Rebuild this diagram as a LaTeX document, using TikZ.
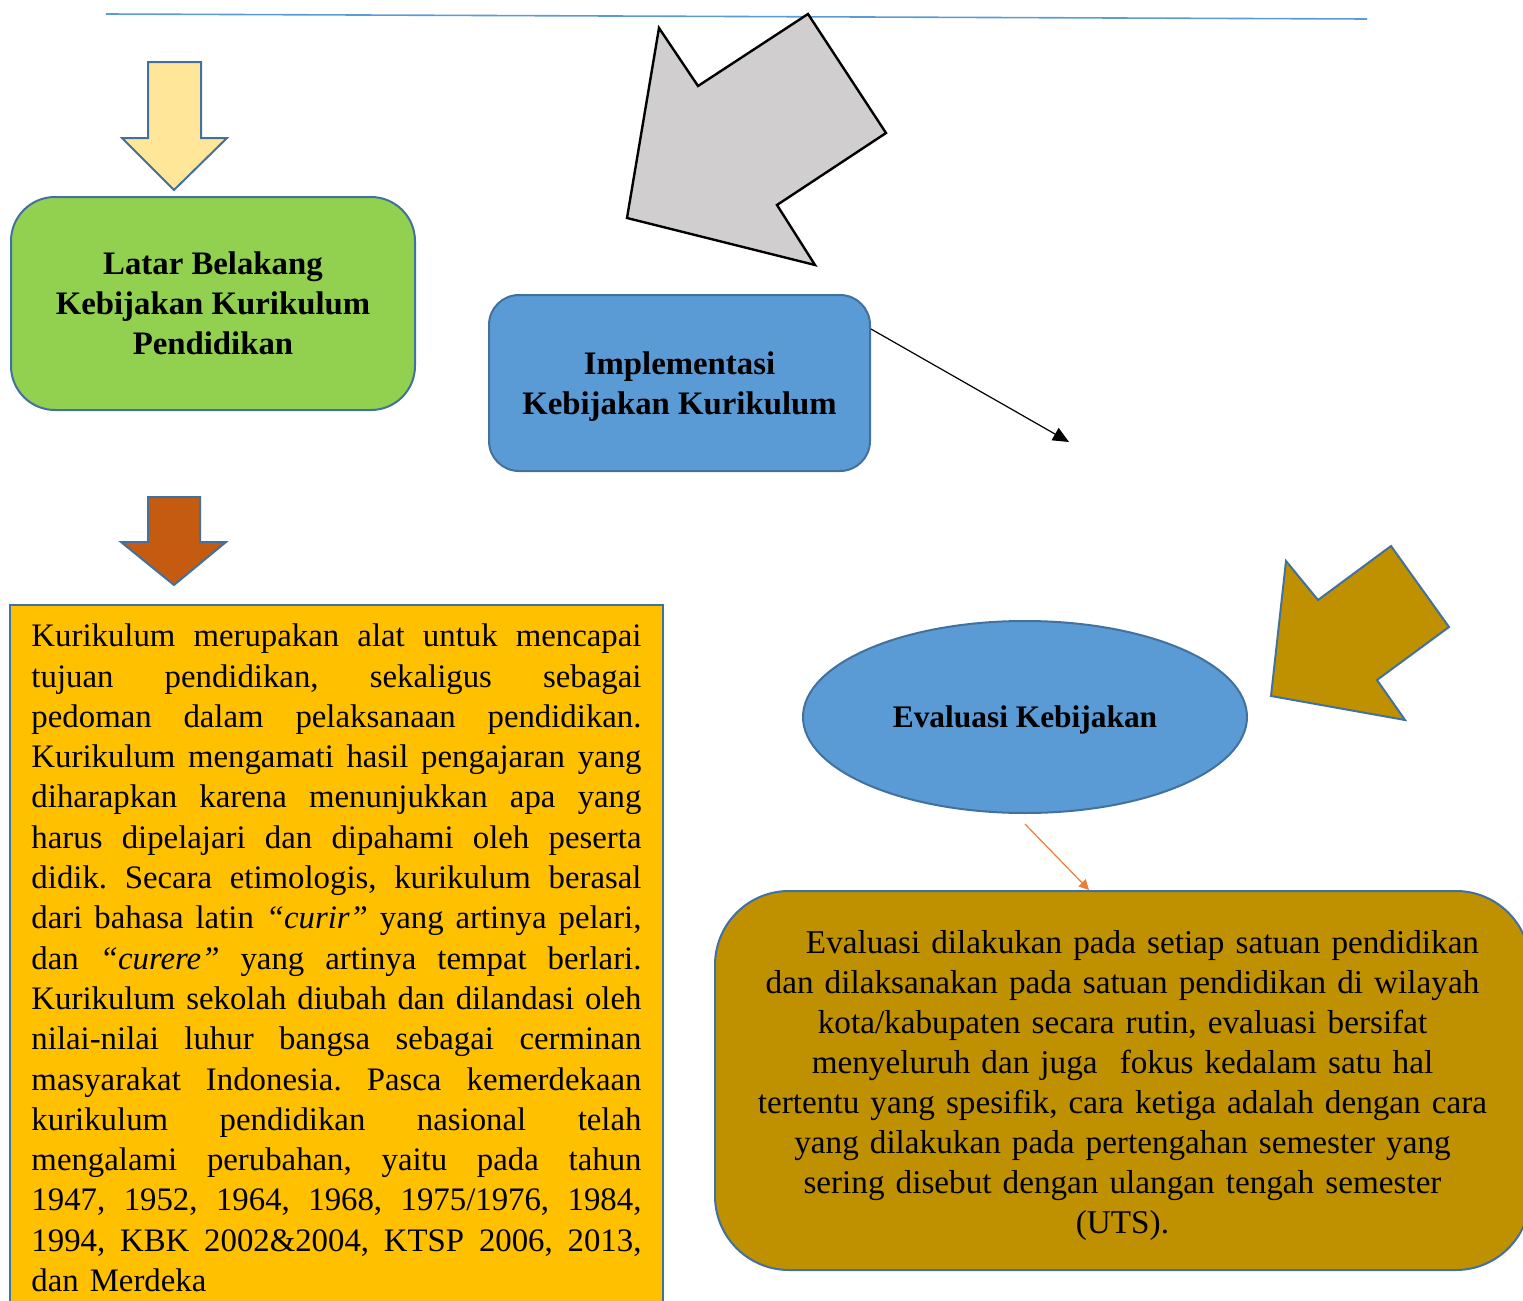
\documentclass[tikz,border=0pt]{standalone}
\usepackage{fontspec}
\setmainfont{Liberation Serif}
\usetikzlibrary{arrows.meta,shapes.geometric}

\definecolor{ruleblue}{HTML}{5B9BD5}
\definecolor{edgeblue}{HTML}{41719C}
\definecolor{paleyellow}{HTML}{FFE699}
\definecolor{leafgreen}{HTML}{92D050}
\definecolor{lightgrey}{HTML}{D0CECE}
\definecolor{skyblue}{HTML}{5B9BD5}
\definecolor{rust}{HTML}{C55A11}
\definecolor{amber}{HTML}{FFC000}
\definecolor{darkgold}{HTML}{BF9000}
\definecolor{tangerine}{HTML}{ED7D31}

% one justified line, spaces stretched to the full width
\newcommand{\jline}[1]{\hbox to 305pt{\spaceskip=0.25em plus 1fil\xspaceskip=0.25em plus 1fil\relax #1}}
\frenchspacing

\begin{document}
\begin{tikzpicture}[x=0.5pt, y=-0.5pt,
        blueedge/.style={draw=edgeblue, line width=1pt},
        blockarrow/.style={blueedge, line join=miter},
        titlebox/.style={blueedge, rounded corners=#1, align=center, inner sep=0pt,
            font=\fontsize{16.4}{20}\selectfont\bfseries},
        textbox/.style={blueedge, font=\fontsize{16.4}{20.15}\selectfont}
    ]
    \useasboundingbox (0,0) rectangle (1523,1301);

    % line across the top
    \coordinate (ruleL) at (106,14);
    \coordinate (ruleR) at (1367,19);
    \draw[ruleblue, line width=0.8pt] (ruleL) -- (ruleR);

    % block arrows
    \draw[blockarrow, fill=paleyellow] (148,62) -- (201,62) -- (201,138) -- (227,138)
        -- (174,190) -- (122,138) -- (148,138) -- cycle;
    \draw[blockarrow, fill=rust] (148,497) -- (200,497) -- (200,542) -- (226,542)
        -- (174,585) -- (121,542) -- (148,542) -- cycle;
    \draw[draw=black, line width=1.2pt, line join=miter, fill=lightgrey] (659,28) -- (698,86)
        -- (808,14) -- (886,133) -- (777,205) -- (815,265) -- (627,218) -- cycle;
    \draw[blockarrow, fill=darkgold] (1286,561) -- (1318,600) -- (1391,546) -- (1449,627)
        -- (1377,680) -- (1405,720) -- (1271,696) -- cycle;

    % boxes
    \node[titlebox=22pt, fill=leafgreen, minimum width=202pt, minimum height=106.5pt]
        (latar) at (213,303.5) {Latar Belakang\\Kebijakan Kurikulum\\Pendidikan};
    \node[titlebox=15pt, fill=skyblue, minimum width=190.5pt, minimum height=88pt, text depth=0pt]
        (impl) at (679.5,383) {Implementasi\\Kebijakan Kurikulum};
    \node[ellipse, blueedge, fill=skyblue, inner sep=0pt, minimum width=222pt, minimum height=96pt,
        text depth=0pt, font=\fontsize{15.7}{19}\selectfont\bfseries] (evaluasi) at (1025,717)
        {Evaluasi Kebijakan};

    \node[textbox, fill=amber, anchor=north west, text width=305pt, inner xsep=10.75pt,
        inner ysep=9.5pt, align=left] (sejarah) at (9,604) {%
        \jline{Kurikulum merupakan alat untuk mencapai}
        \jline{tujuan pendidikan, sekaligus sebagai}
        \jline{pedoman dalam pelaksanaan pendidikan.}
        \jline{Kurikulum mengamati hasil pengajaran yang}
        \jline{diharapkan karena menunjukkan apa yang}
        \jline{harus dipelajari dan dipahami oleh peserta}
        \jline{didik. Secara etimologis, kurikulum berasal}
        \jline{dari bahasa latin \textit{“curir”} yang artinya pelari,}
        \jline{dan \textit{“curere”} yang artinya tempat berlari.}
        \jline{Kurikulum sekolah diubah dan dilandasi oleh}
        \jline{nilai-nilai luhur bangsa sebagai cerminan}
        \jline{masyarakat Indonesia. Pasca kemerdekaan}
        \jline{kurikulum pendidikan nasional telah}
        \jline{mengalami perubahan, yaitu pada tahun}
        \jline{1947, 1952, 1964, 1968, 1975/1976, 1984,}
        \jline{1994, KBK 2002\&2004, KTSP 2006, 2013,}
        \hbox{dan Merdeka}};

    \node[blueedge, fill=darkgold, rounded corners=37pt, minimum width=407.5pt, minimum height=189.5pt]
        (evalbox) at (1122.5,1080.5) {};
    \node[text width=380pt, inner sep=0pt, align=center, font=\fontsize{16.6}{19.95}\selectfont]
        (evaltext) at (1122.5,1085.5) {%
        \hspace*{20pt}Evaluasi dilakukan pada setiap satuan pendidikan\\
        dan dilaksanakan pada satuan pendidikan di wilayah\\
        kota/kabupaten secara rutin, evaluasi bersifat\\
        menyeluruh dan juga~ fokus kedalam satu hal\\
        tertentu yang spesifik, cara ketiga adalah dengan cara\\
        yang dilakukan pada pertengahan semester yang\\
        sering disebut dengan ulangan tengah semester\\
        (UTS).};

    % connectors
    \coordinate (implend) at (1069,442);
    \draw[-{Triangle[length=8pt,width=7pt]}, line width=0.6pt] ([yshift=27pt]impl.east) -- (implend);
    \draw[-{Triangle[length=5pt,width=5pt]}, tangerine, line width=0.6pt]
        ([yshift=-5pt]evaluasi.south) -- ([xshift=-16.75pt]evalbox.north);
\end{tikzpicture}
\end{document}
